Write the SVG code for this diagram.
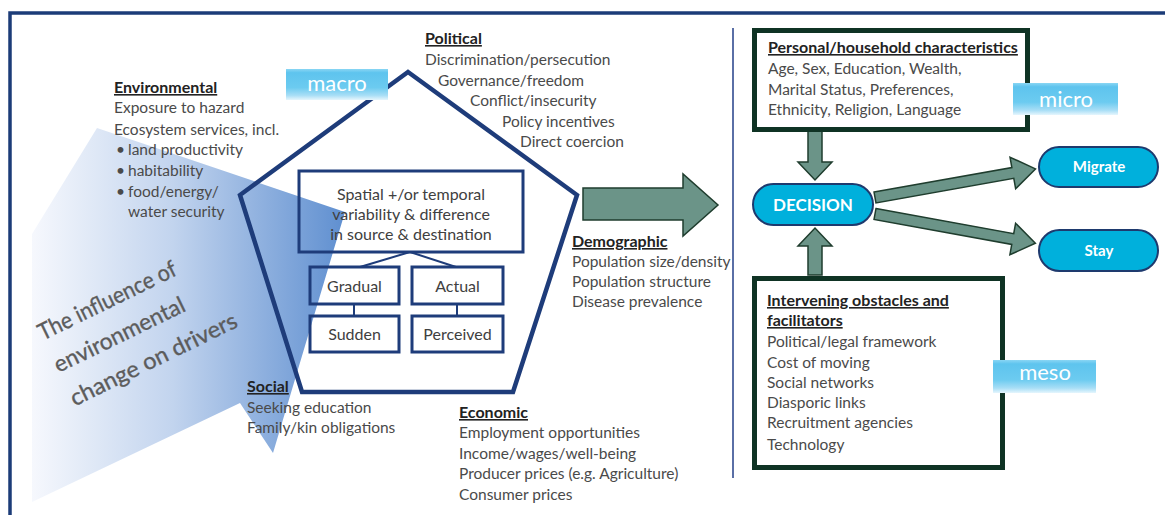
<svg xmlns="http://www.w3.org/2000/svg" width="1165" height="515" viewBox="0 0 1165 515">
<defs>
<linearGradient id="envGrad" gradientUnits="userSpaceOnUse" x1="32" y1="0" x2="345" y2="0">
<stop offset="0" stop-color="#f6f8fd"/>
<stop offset="0.45" stop-color="#c2d4ee"/>
<stop offset="1" stop-color="#5f8fd0"/>
</linearGradient>
<linearGradient id="lblGrad" x1="0" y1="0" x2="0" y2="1">
<stop offset="0" stop-color="#8ad6f4"/>
<stop offset="0.12" stop-color="#5ec4ee"/>
<stop offset="0.6" stop-color="#6ccbf0"/>
<stop offset="0.85" stop-color="#a8def6"/>
<stop offset="1" stop-color="#e6f6fd"/>
</linearGradient>
<style>
text{font-family:Lato,"Liberation Sans",sans-serif;}
.body{font-size:15.5px;fill:#4a4a4a;}
.head{font-size:16px;font-weight:bold;fill:#222;text-decoration:underline;}
.box{fill:none;stroke:#1e3c7a;stroke-width:3;}
.boxt{font-size:16px;fill:#404040;text-anchor:middle;}
.lbl{fill:url(#lblGrad);}
.lblt{font-size:22px;fill:#fff;text-anchor:middle;}
.pill{fill:#00b0dc;stroke:#1e3a6e;stroke-width:2;}
.pillt{fill:#fff;font-weight:bold;text-anchor:middle;}
.arr{fill:#6b9488;stroke:#1f3d2e;stroke-width:1.5;stroke-linejoin:miter;}
.dbox{fill:#fff;stroke:#0f3324;stroke-width:5;}
.infl{font-size:23px;fill:#5c5c5c;stroke:#5c5c5c;stroke-width:0.35;}
</style>
</defs>
<rect width="1165" height="515" fill="#fff"/>
<path d="M10,515 V13 H1165" fill="none" stroke="#1c3c78" stroke-width="3.5"/>
<line x1="733" y1="28" x2="733" y2="478" stroke="#5a6fa6" stroke-width="2"/>

<g id="env-influence">
<polygon points="97,128 345,212 273,453 240,403 32,502 32,234" fill="url(#envGrad)"/>
<g transform="rotate(-26)">
<text class="infl" x="-111" y="325" textLength="151" lengthAdjust="spacingAndGlyphs">The influence of</text>
<text class="infl" x="-111" y="361" textLength="143" lengthAdjust="spacingAndGlyphs">environmental</text>
<text class="infl" x="-111" y="398" textLength="183" lengthAdjust="spacingAndGlyphs">change on drivers</text>
</g>
</g>

<g id="connectors">
<polygon class="arr" points="583,188 683,188 683,174 718,205 683,236 683,220 583,220"/>
<polygon class="arr" points="808,131 822,131 822,162 832,162 815,180 798,162 808,162"/>
<polygon class="arr" points="808,275 822,275 822,246 832,246 815,228 798,246 808,246"/>
<polygon class="arr" transform="translate(875,197.5) rotate(-10.1)" points="0,-5.5 140,-5.5 140,-16 163,0 140,16 140,5.5 0,5.5"/>
<polygon class="arr" transform="translate(875,214) rotate(10.3)" points="0,-5.5 140,-5.5 140,-16 163,0 140,16 140,5.5 0,5.5"/>
<line x1="410" y1="252" x2="360" y2="267" stroke="#1e3c7a" stroke-width="2"/>
<line x1="410" y1="252" x2="456" y2="267" stroke="#1e3c7a" stroke-width="2"/>
<line x1="354" y1="304" x2="354" y2="316" stroke="#1e3c7a" stroke-width="2"/>
<line x1="457" y1="304" x2="457" y2="316" stroke="#1e3c7a" stroke-width="2"/>
</g>

<g id="pentagon">
<polygon points="408,72 577,195 513,392 302,392 240,195" fill="none" stroke="#1e3c7a" stroke-width="4.5" stroke-linejoin="miter"/>
</g>

<g id="spatial">
<rect class="box" x="299" y="171" width="224" height="81"/>
<text class="boxt" x="411" y="200">Spatial +/or temporal</text>
<text class="boxt" x="411" y="220">variability &amp; difference</text>
<text class="boxt" x="411" y="240">in source &amp; destination</text>
</g>
<g id="gradual"><rect class="box" x="310" y="267" width="89" height="37"/><text class="boxt" x="354.5" y="292">Gradual</text></g>
<g id="actual"><rect class="box" x="412" y="267" width="91" height="37"/><text class="boxt" x="457.5" y="292">Actual</text></g>
<g id="sudden"><rect class="box" x="310" y="316" width="89" height="36"/><text class="boxt" x="354.5" y="340">Sudden</text></g>
<g id="perceived"><rect class="box" x="412" y="316" width="91" height="36"/><text class="boxt" x="457.5" y="340">Perceived</text></g>

<g id="macro"><rect class="lbl" x="286" y="69" width="102" height="31"/><text class="lblt" x="337" y="91">macro</text></g>

<g id="environmental">
<text class="head" x="114" y="93">Environmental</text>
<text class="body" x="114" y="113">Exposure to hazard</text>
<text class="body" x="114" y="135">Ecosystem services, incl.</text>
<text class="body" x="116" y="155">•</text><text class="body" x="128" y="155">land productivity</text>
<text class="body" x="116" y="176">•</text><text class="body" x="128" y="176">habitability</text>
<text class="body" x="116" y="197">•</text><text class="body" x="128" y="197">food/energy/</text>
<text class="body" x="128" y="217">water security</text>
</g>

<g id="political">
<text class="head" x="425" y="44">Political</text>
<text class="body" x="425" y="65">Discrimination/persecution</text>
<text class="body" x="438" y="86">Governance/freedom</text>
<text class="body" x="470" y="106">Conflict/insecurity</text>
<text class="body" x="502" y="127">Policy incentives</text>
<text class="body" x="520" y="147">Direct coercion</text>
</g>

<g id="demographic">
<text class="head" x="572" y="247">Demographic</text>
<text class="body" x="572" y="267">Population size/density</text>
<text class="body" x="572" y="287">Population structure</text>
<text class="body" x="572" y="307">Disease prevalence</text>
</g>

<g id="social">
<text class="head" x="247" y="392">Social</text>
<text class="body" x="247" y="413">Seeking education</text>
<text class="body" x="247" y="433">Family/kin obligations</text>
</g>

<g id="economic">
<text class="head" x="459" y="418">Economic</text>
<text class="body" x="459" y="438">Employment opportunities</text>
<text class="body" x="459" y="459">Income/wages/well-being</text>
<text class="body" x="459" y="479">Producer prices (e.g. Agriculture)</text>
<text class="body" x="459" y="500">Consumer prices</text>
</g>

<g id="personal">
<rect class="dbox" x="754.5" y="30.5" width="273" height="99"/>
<text class="head" x="768" y="53">Personal/household characteristics</text>
<text class="body" x="768" y="74">Age, Sex, Education, Wealth,</text>
<text class="body" x="768" y="95">Marital Status, Preferences,</text>
<text class="body" x="768" y="115">Ethnicity, Religion, Language</text>
</g>
<g id="micro"><rect class="lbl" x="1013" y="83" width="105" height="32"/><text class="lblt" x="1066" y="107">micro</text></g>

<g id="intervening">
<rect class="dbox" x="754.5" y="278.5" width="248" height="189"/>
<text class="head" x="767" y="306">Intervening obstacles and</text>
<text class="head" x="767" y="326">facilitators</text>
<text class="body" x="767" y="347">Political/legal framework</text>
<text class="body" x="767" y="368">Cost of moving</text>
<text class="body" x="767" y="388">Social networks</text>
<text class="body" x="767" y="408">Diasporic links</text>
<text class="body" x="767" y="428">Recruitment agencies</text>
<text class="body" x="767" y="450">Technology</text>
</g>
<g id="meso"><rect class="lbl" x="993" y="360" width="103" height="33"/><text class="lblt" x="1045" y="380">meso</text></g>

<g id="decision"><rect class="pill" x="753" y="184" width="120" height="41" rx="20.5"/><text class="pillt" x="813" y="211" style="font-size:17px">DECISION</text></g>
<g id="migrate"><rect class="pill" x="1039" y="147" width="119" height="40" rx="20"/><text class="pillt" x="1099" y="172" style="font-size:15px">Migrate</text></g>
<g id="stay"><rect class="pill" x="1039" y="230" width="119" height="41" rx="20.5"/><text class="pillt" x="1099" y="256" style="font-size:15px">Stay</text></g>
</svg>
